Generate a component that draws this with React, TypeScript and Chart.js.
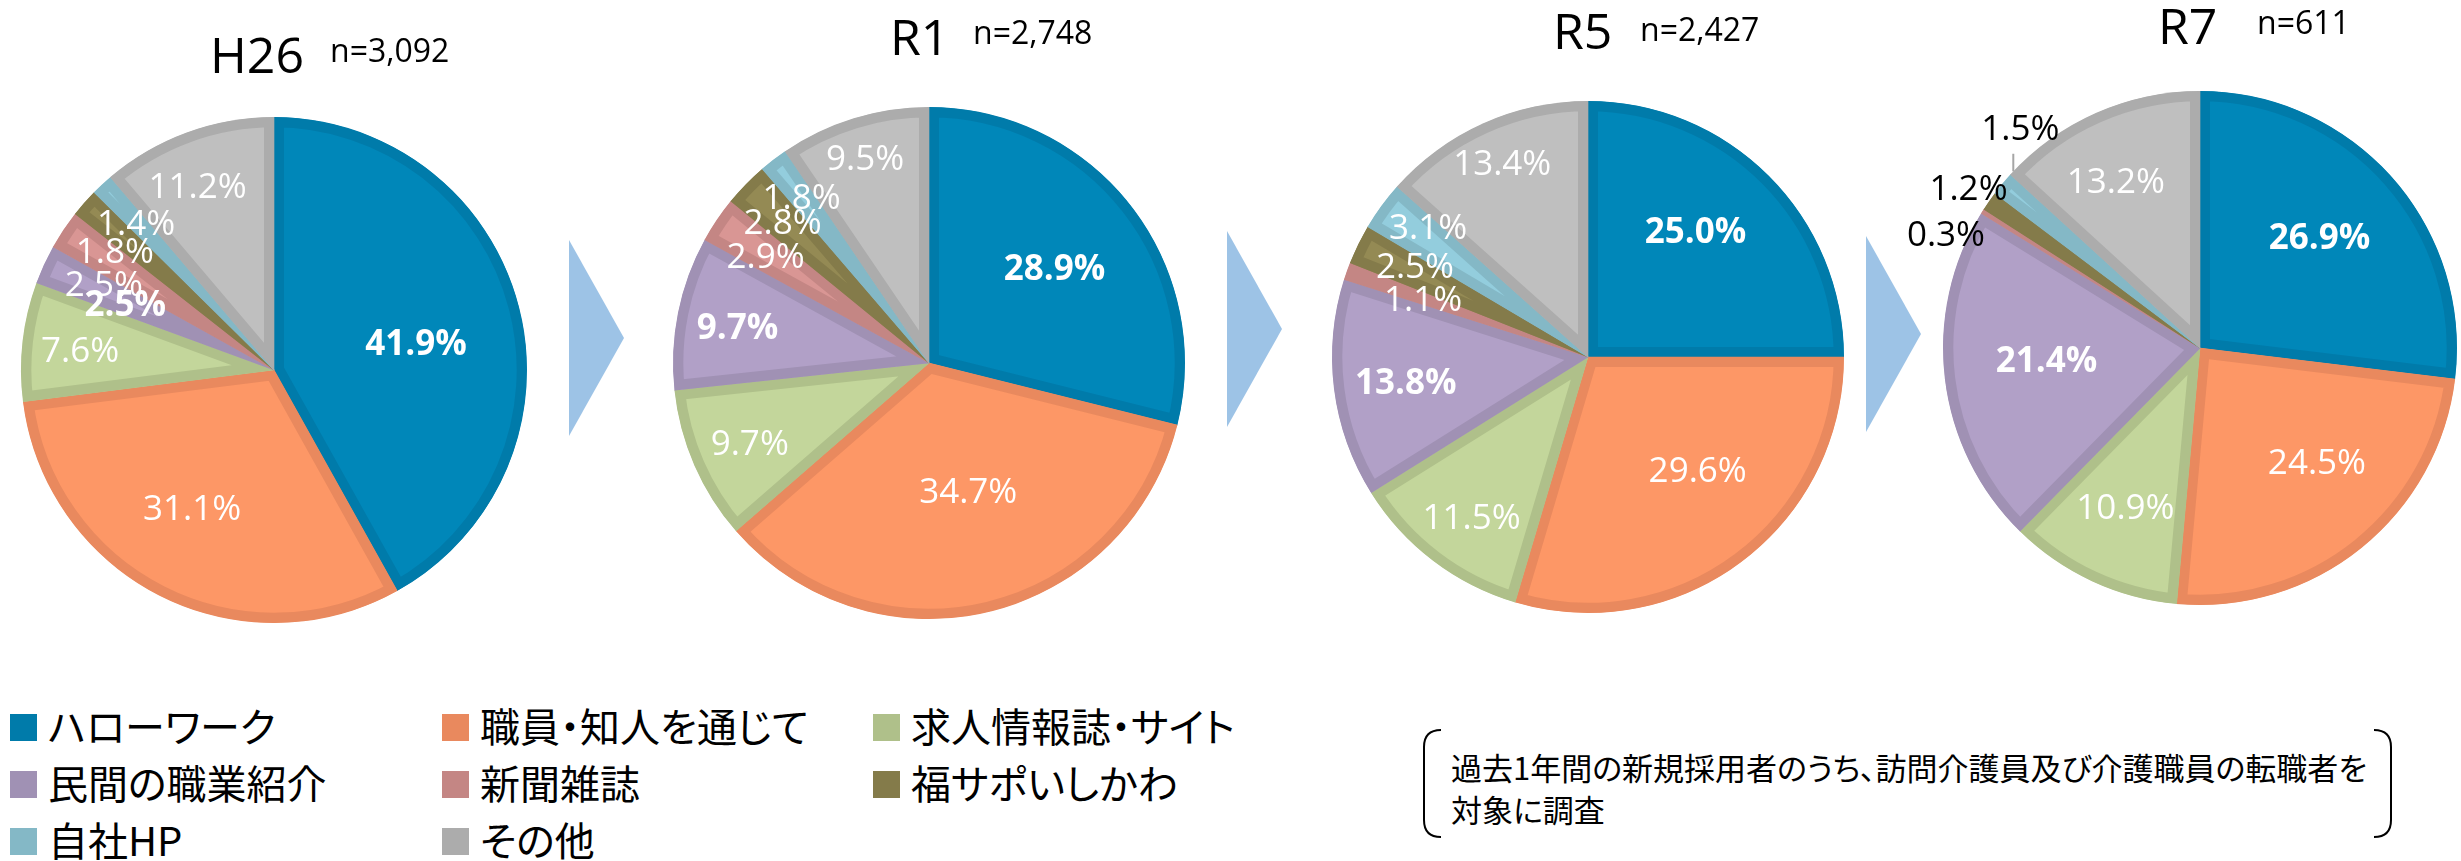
import React, { useEffect, useRef } from 'react';
import { Chart, registerables } from 'chart.js';

Chart.register(...registerables);

// ---------- data ----------
const categories = ['ハローワーク', '職員・知人を通じて', '求人情報誌・サイト', '民間の職業紹介', '新聞雑誌', '福サポいしかわ', '自社HP', 'その他'];
const surveyYears = ['H26', 'R1', 'R5', 'R7'];
const sampleSizes = ['n=3,092', 'n=2,748', 'n=2,427', 'n=611'];
const valuesH26 = [41.9, 31.1, 7.6, 2.5, 2.5, 1.8, 1.4, 11.2];
const valuesR1 = [28.9, 34.7, 9.7, 9.7, 2.9, 2.8, 1.8, 9.5];
const valuesR5 = [25.0, 29.6, 11.5, 13.8, 1.1, 2.5, 3.1, 13.4];
const valuesR7 = [26.9, 24.5, 10.9, 21.4, 0.3, 1.2, 1.5, 13.2];
const seriesValues = [valuesH26, valuesR1, valuesR5, valuesR7];
const noteLines = ['過去1年間の新規採用者のうち、訪問介護員及び介護職員の転職者を', '対象に調査'];

// ---------- style / layout ----------
const sliceFill = ['#0087B9', '#FD9766', '#C3D69B', '#B1A0C7', '#D99694', '#948A54', '#93CDDD', '#BFBFBF'];
const sliceBorder = ['#007BAA', '#E9895E', '#AFC08A', '#A091B4', '#C48684', '#847B4A', '#84B8C6', '#ACACAC'];
const boldSlices = [0, 3];
const CANVAS = 620;
const pieGeometry = [
  { cx: 274, cy: 370, r: 253 },
  { cx: 929, cy: 363, r: 256 },
  { cx: 1588, cy: 357, r: 256 },
  { cx: 2200, cy: 348, r: 257 },
];
const titlePlacement = [
  { titleLeft: 210, titleTop: 29, nLeft: 330, nTop: 34 },
  { titleLeft: 890, titleTop: 11, nLeft: 973, nTop: 16 },
  { titleLeft: 1553, titleTop: 5, nLeft: 1640, nTop: 13 },
  { titleLeft: 2158, titleTop: 0, nLeft: 2257, nTop: 6 },
];
// label distance (fraction of radius) and angular nudge (degrees) per slice
const labelFrac = [
  [0.57, 0.64, 0.77, 0.64, 0.75, 0.78, 0.79, 0.78],
  [0.61, 0.53, 0.77, 0.76, 0.76, 0.79, 0.81, 0.83],
  [0.64, 0.62, 0.78, 0.72, 0.68, 0.76, 0.8, 0.82],
  [0.63, 0.64, 0.69, 0.6, 1.08, 1.09, 1.1, 0.72],
];
const labelNudge = [
  [4.6, 3.6, -1.2, -1.3, -7.4, -5.2, -0.8, -2.6],
  [1.4, -3.3, -1, -1.2, -1.2, -0.7, -0.5, -0.4],
  [-4, -7, -1.6, -1.2, -1, 1.1, 2.5, 0],
  [-0.9, -6.4, 0, 1.6, -8.4, -0.6, 10.8, -3.3],
];
const leaderSlice = [-1, -1, -1, 6];
const arrows = [
  { x: 569, top: 240, w: 55, h: 196 },
  { x: 1227, top: 231, w: 55, h: 196 },
  { x: 1866, top: 236, w: 55, h: 196 },
];
const legendCols = [10, 442, 873];
const legendRows = [727, 784, 841];

function PieChart({ index }: { index: number }) {
  const ref = useRef<HTMLCanvasElement>(null);
  useEffect(() => {
    const canvas = ref.current;
    if (!canvas) return;
    const geom = pieGeometry[index];
    const values = seriesValues[index];
    const fracs = labelFrac[index];
    const nudges = labelNudge[index];
    const leader = leaderSlice[index];
    const labelPlugin = {
      id: 'sliceLabels' + index,
      afterDatasetsDraw(chart: any) {
        const ctx = chart.ctx as CanvasRenderingContext2D;
        const meta = chart.getDatasetMeta(0);
        meta.data.forEach((arc: any, i: number) => {
          const p = arc.getProps(['x', 'y', 'startAngle', 'endAngle', 'outerRadius'], true);
          const a = (p.startAngle + p.endAngle) / 2 + (nudges[i] * Math.PI) / 180;
          const r = p.outerRadius * fracs[i];
          const lx = p.x + r * Math.cos(a);
          const ly = p.y + r * Math.sin(a);
          const outside = fracs[i] > 1;
          ctx.save();
          ctx.font = `${boldSlices.includes(i) ? '700' : '400'} 35px "Open Sans"`;
          ctx.fillStyle = outside ? '#000000' : '#FFFFFF';
          ctx.textAlign = 'center';
          ctx.textBaseline = 'middle';
          ctx.fillText(values[i].toFixed(1) + '%', lx, ly);
          if (leader === i) {
            const lineX = lx - 7;
            const dx = lineX - p.x;
            const edgeY = p.y - Math.sqrt(Math.max(p.outerRadius * p.outerRadius - dx * dx, 0));
            ctx.strokeStyle = '#A6A6A6';
            ctx.lineWidth = 2;
            ctx.beginPath();
            ctx.moveTo(lineX, ly + 24);
            ctx.lineTo(lineX, edgeY);
            ctx.stroke();
          }
          ctx.restore();
        });
      },
    };
    const chart = new Chart(canvas, {
      type: 'pie',
      data: {
        labels: categories,
        datasets: [
          {
            data: values,
            backgroundColor: sliceFill,
            borderColor: sliceBorder,
            borderWidth: 10,
            borderAlign: 'inner',
            borderJoinStyle: 'miter',
            radius: geom.r,
            hoverOffset: 0,
          } as any,
        ],
      },
      options: {
        responsive: false,
        animation: false,
        events: [],
        layout: { padding: 0 },
        plugins: { legend: { display: false }, tooltip: { enabled: false }, title: { display: false } },
      },
      plugins: [labelPlugin],
    });
    return () => chart.destroy();
  }, [index]);
  const g = pieGeometry[index];
  return (
    <canvas
      ref={ref}
      width={CANVAS}
      height={CANVAS}
      style={{ position: 'absolute', left: g.cx - CANVAS / 2, top: g.cy - CANVAS / 2 }}
    />
  );
}

export default function App() {
  return (
    <div
      style={{
        position: 'fixed',
        left: 0,
        top: 0,
        width: 2461,
        height: 861,
        background: '#FFFFFF',
        overflow: 'hidden',
      }}
    >
      <svg width={2461} height={861} style={{ position: 'absolute', left: 0, top: 0 }}>
        {arrows.map((a, i) => (
          <polygon
            key={i}
            points={`${a.x},${a.top} ${a.x + a.w},${a.top + a.h / 2} ${a.x},${a.top + a.h}`}
            fill="#9DC3E6"
          />
        ))}
        <path d="M 1441 730 Q 1424 730 1424 747 L 1424 820 Q 1424 837 1441 837" fill="none" stroke="#000" strokeWidth={2} />
        <path d="M 2374 730 Q 2391 730 2391 747 L 2391 820 Q 2391 837 2374 837" fill="none" stroke="#000" strokeWidth={2} />
      </svg>
      {surveyYears.map((_, i) => (
        <PieChart key={i} index={i} />
      ))}
      {surveyYears.map((yr, i) => (
        <React.Fragment key={'t' + i}>
          <div
            style={{
              position: 'absolute',
              left: titlePlacement[i].titleLeft,
              top: titlePlacement[i].titleTop,
              font: '400 50px "Open Sans"',
              lineHeight: '50px',
              color: '#000',
              whiteSpace: 'nowrap',
            }}
          >
            {yr}
          </div>
          <div
            style={{
              position: 'absolute',
              left: titlePlacement[i].nLeft,
              top: titlePlacement[i].nTop,
              font: '400 32px "Open Sans"',
              lineHeight: '32px',
              color: '#000',
              whiteSpace: 'nowrap',
            }}
          >
            {sampleSizes[i]}
          </div>
        </React.Fragment>
      ))}
      {categories.map((c, i) => {
        const col = i % 3;
        const row = Math.floor(i / 3);
        const x = legendCols[col];
        const yc = legendRows[row];
        return (
          <React.Fragment key={'l' + i}>
            <div
              style={{
                position: 'absolute',
                left: x,
                top: yc - 13.5,
                width: 27,
                height: 27,
                background: sliceBorder[i],
              }}
            />
            <div
              style={{
                position: 'absolute',
                left: x + 38,
                top: yc - 22,
                font: '400 40px "Noto Sans CJK JP"',
                lineHeight: '40px',
                fontFeatureSettings: '"palt"',
                color: '#000',
                whiteSpace: 'nowrap',
              }}
            >
              {c}
            </div>
          </React.Fragment>
        );
      })}
      <div
        style={{
          position: 'absolute',
          left: 1451,
          top: 746,
          font: '400 31px "Noto Sans CJK JP"',
          lineHeight: '42px',
          fontFeatureSettings: '"palt"',
          color: '#000',
          whiteSpace: 'nowrap',
        }}
      >
        {noteLines.map((l, i) => (
          <div key={i}>{l}</div>
        ))}
      </div>
    </div>
  );
}
